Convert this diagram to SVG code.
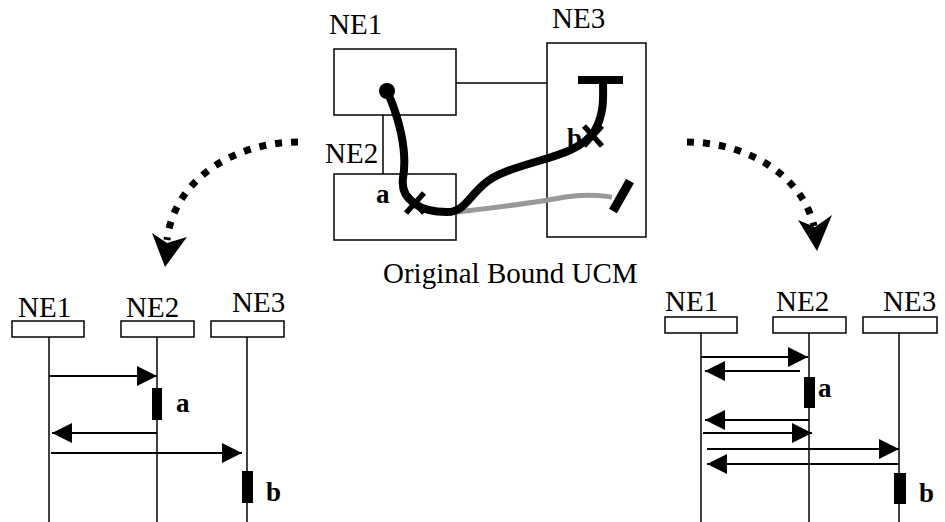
<svg xmlns="http://www.w3.org/2000/svg" width="945" height="522" viewBox="0 0 945 522" font-family="'Liberation Serif', 'Times New Roman', 'DejaVu Serif', serif">
<style>
text{font-family:'Liberation Serif','Times New Roman','DejaVu Serif',serif;fill:#000}
.lbl{font-size:29px;font-weight:normal}
.b{font-size:27px;font-weight:bold}
.box{fill:#fff;stroke:#000;stroke-width:1.5}
.life{stroke:#000;stroke-width:1.5;fill:none}
.msg{stroke:#000;stroke-width:2;fill:none;marker-end:url(#ah)}
.dot{stroke:#000;stroke-width:7;fill:none;stroke-dasharray:7 9}
</style>
<defs>
<marker id="ah" markerUnits="userSpaceOnUse" markerWidth="22" markerHeight="22" refX="20" refY="10" orient="auto">
<path d="M0,0 L20,10 L0,20 Z" fill="#000"/>
</marker>
</defs>

<g id="ucm">
<text class="lbl" x="329" y="34">NE1</text>
<text class="lbl" x="552" y="28">NE3</text>
<text class="lbl" x="325" y="163">NE2</text>
<line class="life" x1="456" y1="83" x2="547" y2="83"/>
<line class="life" x1="383" y1="115" x2="383" y2="174"/>
<rect class="box" x="334" y="49" width="122" height="66"/>
<rect class="box" x="334" y="174" width="122" height="66"/>
<rect class="box" x="547" y="43" width="99" height="194"/>
<path d="M448,213 C490,208 530,204 565,197 C590,193 602,196 612,197" stroke="#999" stroke-width="5" fill="none"/>
<line x1="630" y1="181" x2="613" y2="211" stroke="#000" stroke-width="9"/>
<path d="M387,91 C398,115 408,150 403,178 C400,200 420,212 447,212 C470,212 470,185 505,172 C540,158 580,155 595,130 C605,112 603,95 603,80" stroke="#000" stroke-width="8" fill="none"/>
<circle cx="387" cy="91" r="8" fill="#000"/>
<line x1="578" y1="80" x2="623" y2="80" stroke="#000" stroke-width="8"/>
<path d="M406,193 L424,213 M424,193 L406,213" stroke="#000" stroke-width="5.5"/>
<path d="M584,126 L602,146 M602,126 L584,146" stroke="#000" stroke-width="5.5"/>
<text class="b" x="376" y="203">a</text>
<text class="b" x="567" y="147">b</text>
<text class="lbl" x="383" y="283">Original Bound UCM</text>
</g>

<g id="connectors">
<path class="dot" d="M298,142 C240,142 175,175 167,240"/>
<path d="M165,267 L152,233 L167,243 L187,237 Z" fill="#000"/>
<path class="dot" d="M687,142 C740,142 800,170 814,226"/>
<path d="M817,251 L798,220 L815,227 L832,215 Z" fill="#000"/>
</g>

<g id="seq-left">
<text class="lbl" x="18" y="317">NE1</text>
<text class="lbl" x="126" y="317">NE2</text>
<text class="lbl" x="232" y="312">NE3</text>
<rect class="box" x="12" y="321" width="72" height="16"/>
<rect class="box" x="121" y="321" width="73" height="16"/>
<rect class="box" x="211" y="321" width="73" height="16"/>
<line class="life" x1="49" y1="337" x2="49" y2="522"/>
<line class="life" x1="157" y1="337" x2="157" y2="522"/>
<line class="life" x1="247" y1="337" x2="247" y2="522"/>
<line class="msg" x1="49" y1="376" x2="157" y2="376"/>
<line class="msg" x1="157" y1="433" x2="52" y2="433"/>
<line class="msg" x1="51" y1="453" x2="242" y2="453"/>
<rect x="152" y="388" width="10" height="32" fill="#000"/>
<rect x="242" y="471" width="11" height="32" fill="#000"/>
<text class="b" x="176" y="412">a</text>
<text class="b" x="266" y="501">b</text>
</g>

<g id="seq-right">
<text class="lbl" x="665" y="311">NE1</text>
<text class="lbl" x="776" y="311">NE2</text>
<text class="lbl" x="883" y="311">NE3</text>
<rect class="box" x="665" y="317" width="72" height="16"/>
<rect class="box" x="773" y="317" width="73" height="16"/>
<rect class="box" x="863" y="317" width="74" height="16"/>
<line class="life" x1="701" y1="333" x2="701" y2="522"/>
<line class="life" x1="809" y1="333" x2="809" y2="522"/>
<line class="life" x1="899" y1="333" x2="899" y2="522"/>
<line class="msg" x1="701" y1="357" x2="808" y2="357"/>
<line class="msg" x1="800" y1="371" x2="705" y2="371"/>
<line class="msg" x1="809" y1="420" x2="705" y2="420"/>
<line class="msg" x1="703" y1="433" x2="812" y2="433"/>
<line class="msg" x1="707" y1="449" x2="899" y2="449"/>
<line class="msg" x1="899" y1="464" x2="707" y2="464"/>
<rect x="804" y="377" width="11" height="31" fill="#000"/>
<rect x="894" y="473" width="12" height="31" fill="#000"/>
<text class="b" x="818" y="397">a</text>
<text class="b" x="919" y="502">b</text>
</g>
</svg>
